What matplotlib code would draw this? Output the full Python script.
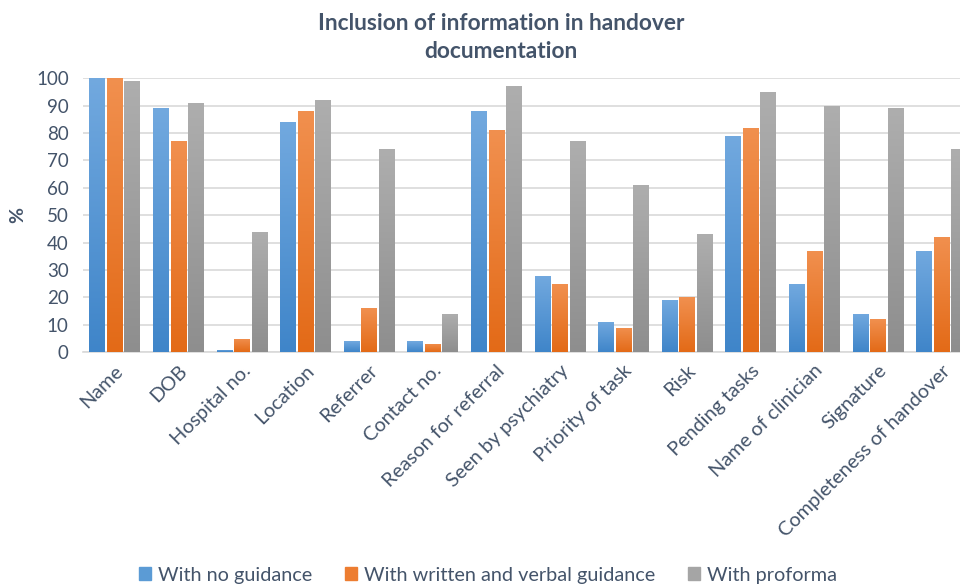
import numpy as np
import matplotlib.pyplot as plt
from matplotlib.colors import LinearSegmentedColormap
from matplotlib.patches import Patch

plt.rcParams['font.family'] = ['Lato', 'DejaVu Sans']

categories = ["Name", "DOB", "Hospital no.", "Location", "Referrer", "Contact no.",
              "Reason for referral", "Seen by psychiatry", "Priority of task", "Risk",
              "Pending tasks", "Name of clinician", "Signature", "Completeness of handover"]
no_guidance = [100, 89, 1, 84, 4, 4, 88, 28, 11, 19, 79, 25, 14, 37]
written_verbal = [100, 77, 5, 88, 16, 3, 81, 25, 9, 20, 82, 37, 12, 42]
proforma = [99, 91, 44, 92, 74, 14, 97, 77, 61, 43, 95, 90, 89, 74]

series = [
    ("With no guidance", no_guidance, "#5B9BD5", ("#3F85C9", "#72A9DF")),
    ("With written and verbal guidance", written_verbal, "#ED7D31", ("#E36A17", "#F1904F")),
    ("With proforma", proforma, "#A5A5A5", ("#8E8E8E", "#AEAEAE")),
]

txt = "#44546A"

fig = plt.figure(figsize=(9.6, 5.84), dpi=100)
ax = fig.add_axes([0.0861, 0.3968, 0.9275, 0.4692])

x = np.arange(len(categories))
width = 0.236
step = 0.275
grad = np.linspace(0, 1, 256).reshape(-1, 1)

for i, (name, vals, col, (dark, light)) in enumerate(series):
    cmap = LinearSegmentedColormap.from_list(name, [dark, light])
    bars = ax.bar(x + (i - 1) * step, vals, width, color=col, zorder=2)
    for b in bars:
        x0, y0 = b.get_x(), b.get_y()
        im = ax.imshow(grad, extent=[x0, x0 + b.get_width(), y0, y0 + b.get_height()],
                       origin='lower', aspect='auto', cmap=cmap, zorder=3)
        im.set_clip_path(b)

ax.set_xlim(-0.5, len(categories) - 0.5)
ax.set_ylim(0, 100)
ax.set_yticks(range(0, 101, 10))
ax.yaxis.grid(True, color="#D9D9D9", linewidth=1.2, zorder=0)
ax.set_axisbelow(True)
for s in ["top", "right", "left"]:
    ax.spines[s].set_visible(False)
ax.spines["bottom"].set_color("#D9D9D9")
ax.spines["bottom"].set_linewidth(1.2)
ax.tick_params(axis="y", length=0, labelsize=13.5, colors=txt, pad=10)
ax.tick_params(axis="x", length=0, labelsize=14.3, colors=txt, pad=7)
ax.set_xticks(x)
ax.set_xticklabels(categories, rotation=45, ha="right", rotation_mode="anchor")
ax.set_ylabel("%", fontsize=14, color=txt, fontweight="bold", labelpad=7)

fig.text(0.522, 0.936, "Inclusion of information in handover\ndocumentation",
         ha="center", va="center", fontsize=16.4, fontweight="bold", color=txt,
         linespacing=1.45)

handles = [Patch(color=c) for _, _, c, _ in series]
fig.legend(handles, [s[0] for s in series], loc="center", bbox_to_anchor=(0.508, 0.015),
           ncol=3, frameon=False, fontsize=14.3, labelcolor=txt, handlelength=0.6,
           handleheight=0.6, handletextpad=0.35, columnspacing=1.65)

fig.savefig("out.png", dpi=100)
